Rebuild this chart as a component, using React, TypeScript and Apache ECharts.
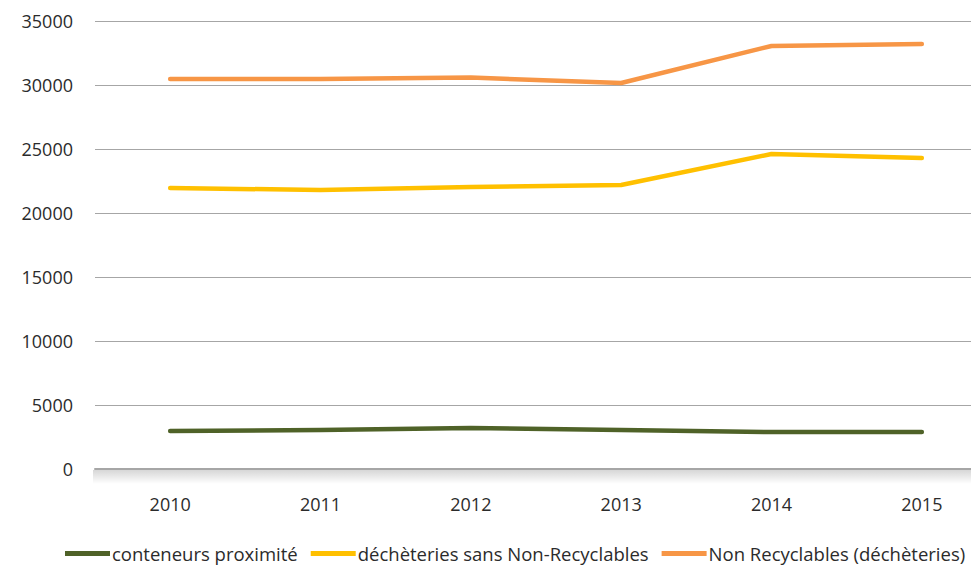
import React, { useEffect, useRef } from "react";
import * as echarts from "echarts";

const years = ["2010", "2011", "2012", "2013", "2014", "2015"];
const conteneurs = [2970, 3050, 3200, 3050, 2890, 2890];
const decheteries = [21950, 21800, 22030, 22190, 24610, 24300];
const nonRecyclables = [30470, 30470, 30580, 30160, 33050, 33200];
const seriesNames = [
  "conteneurs proximité",
  "déchèteries sans Non-Recyclables",
  "Non Recyclables (déchèteries)",
];
const colors = ["#4F6228", "#FFC000", "#F79646"];

export default function App() {
  const ref = useRef<HTMLDivElement>(null);
  useEffect(() => {
    if (!ref.current) return;
    const chart = echarts.init(ref.current, undefined, { renderer: "svg" });
    const font = "Open Sans";
    const textColor = "#2b2b2b";
    const dataSets = [conteneurs, decheteries, nonRecyclables];
    chart.setOption({
      animation: false,
      backgroundColor: "#ffffff",
      textStyle: { fontFamily: font },
      grid: { left: 95, top: 21, width: 902, height: 448 },
      graphic: [
        {
          type: "rect",
          shape: { x: 93, y: 470, width: 910, height: 14 },
          style: {
            fill: new echarts.graphic.LinearGradient(0, 0, 0, 1, [
              { offset: 0, color: "rgba(0,0,0,0.16)" },
              { offset: 1, color: "rgba(0,0,0,0)" },
            ]),
          },
          z: -1,
        },
      ],
      legend: {
        left: 60,
        top: 539,
        icon: "rect",
        itemWidth: 45,
        itemHeight: 5,
        itemGap: 13,
        textStyle: { fontFamily: font, fontSize: 18.5, color: textColor, padding: [0, 0, 0, -3] },
        data: seriesNames,
      },
      xAxis: {
        type: "category",
        data: years,
        boundaryGap: true,
        axisTick: { show: false },
        axisLine: { lineStyle: { color: "#A6A6A6", width: 2 } },
        axisLabel: { fontFamily: font, fontSize: 18, color: textColor, margin: 26 },
      },
      yAxis: {
        type: "value",
        min: 0,
        max: 35000,
        interval: 5000,
        axisLine: { show: false },
        axisTick: { show: false },
        splitLine: { lineStyle: { color: "#A6A6A6", width: 1 } },
        axisLabel: {
          fontFamily: font,
          fontSize: 18,
          color: textColor,
          margin: 22,
          formatter: (v: number) => String(v),
        },
      },
      series: seriesNames.map((name, i) => ({
        name,
        type: "line",
        data: dataSets[i],
        symbol: "none",
        color: colors[i],
        lineStyle: { color: colors[i], width: 4.5, cap: "round", join: "round" },
      })),
    });
    return () => chart.dispose();
  }, []);
  return (
    <div
      style={{ position: "fixed", left: 0, top: 0, width: 971, height: 568, overflow: "hidden" }}
    >
      <div ref={ref} style={{ width: 1000, height: 568 }} />
    </div>
  );
}
